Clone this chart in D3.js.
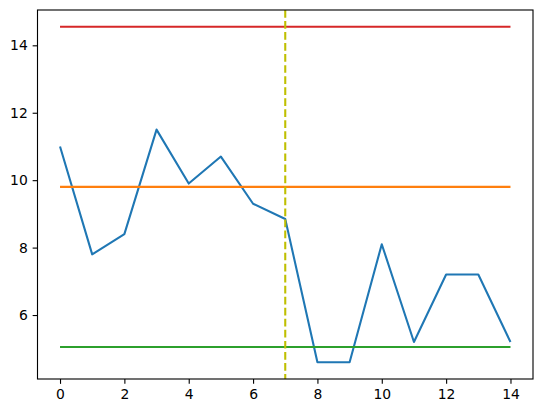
<!DOCTYPE html>
<html>
<head>
<meta charset="utf-8">
<script src="https://cdn.jsdelivr.net/npm/d3@7"></script>
<style>
  body { margin: 0; background: #fff; }
  svg { display: block; font-family: "DejaVu Sans", sans-serif; }
</style>
</head>
<body>
<div class="main"></div>
<script>
// dados
var values = [11.0, 7.8, 8.4, 11.5, 9.9, 10.7, 9.3, 8.85, 4.6, 4.6, 8.1, 5.2, 7.2, 7.2, 5.2];
var upper  = 14.55,
    center = 9.8,
    lower  = 5.05,
    split  = 7;
var xTicks = [0, 2, 4, 6, 8, 10, 12, 14];
var yTicks = [6, 8, 10, 12, 14];

// obs: "top" e reservado no window, entao uso outros nomes
var W = 543, H = 413,
    plotLeft = 37.5, plotRight = 533, plotTop = 10, plotBottom = 379;

var svg = d3.select('.main').append('svg')
            .attr('width', W)
            .attr('height', H);

// limites com margem de 5% como no matplotlib
var n = values.length - 1;
var yMin = d3.min(values.concat([lower, upper])),
    yMax = d3.max(values.concat([lower, upper]));
var x = d3.scaleLinear().domain([-0.05 * n, n * 1.05]).range([plotLeft, plotRight]);
var y = d3.scaleLinear().domain([yMin - 0.05 * (yMax - yMin), yMax + 0.05 * (yMax - yMin)]).range([plotBottom, plotTop]);

var line = d3.line().x((d, i) => x(i)).y(d => y(d));

svg.append('path')
    .datum(values)
    .attr('d', line)
    .attr('fill', 'none')
    .attr('stroke', '#1f77b4')
    .attr('stroke-width', 2.08)
    .attr('stroke-linejoin', 'round');

// linhas horizontais
var hlines = [[center, '#ff7f0e'], [upper, '#d62728'], [lower, '#2ca02c']];
hlines.forEach(function(h) {
    svg.append('line')
        .attr('x1', x(0)).attr('x2', x(n))
        .attr('y1', y(h[0])).attr('y2', y(h[0]))
        .attr('stroke', h[1])
        .attr('stroke-width', 2.08);
});

// linha vertical tracejada
svg.append('line')
    .attr('x1', x(split)).attr('x2', x(split))
    .attr('y1', plotTop).attr('y2', plotBottom)
    .attr('stroke', '#bfbf00')
    .attr('stroke-width', 2.08)
    .attr('stroke-dasharray', '7.7,3.33');

// eixos
var xAxis = svg.append('g')
    .attr('transform', 'translate(0,' + plotBottom + ')')
    .call(d3.axisBottom(x).tickValues(xTicks).tickSize(4.86).tickPadding(4.9).tickFormat(d3.format('d')));
var yAxis = svg.append('g')
    .attr('transform', 'translate(' + plotLeft + ',0)')
    .call(d3.axisLeft(y).tickValues(yTicks).tickSize(4.86).tickPadding(4.9).tickFormat(d3.format('d')));

[xAxis, yAxis].forEach(function(a) {
    a.select('.domain').remove();
    a.selectAll('line').attr('stroke', '#000').attr('stroke-width', 1.11);
    a.selectAll('text').attr('font-size', 13.9).attr('font-family', 'DejaVu Sans').attr('fill', '#000');
});

svg.append('rect')
    .attr('x', plotLeft).attr('y', plotTop)
    .attr('width', plotRight - plotLeft).attr('height', plotBottom - plotTop)
    .attr('fill', 'none')
    .attr('stroke', '#000')
    .attr('stroke-width', 1.11);
</script>
</body>
</html>
